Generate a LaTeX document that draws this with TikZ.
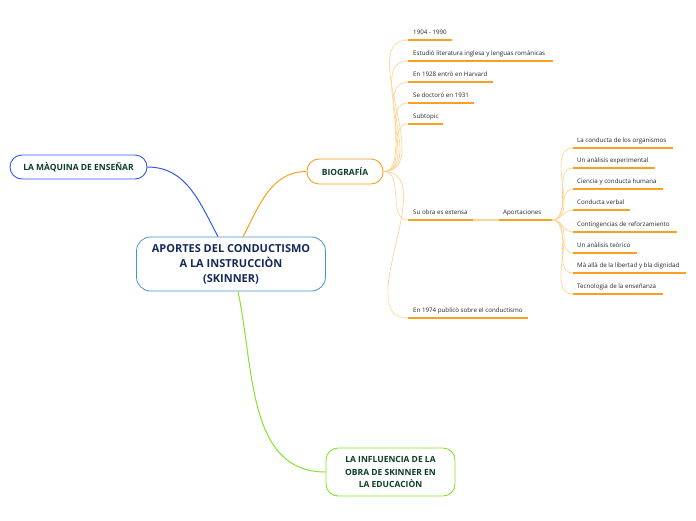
\documentclass[tikz,border=0pt]{standalone}
\usepackage{fontspec}
\setmainfont{Open Sans}
\definecolor{navy}{HTML}{14285A}
\definecolor{darkteal}{HTML}{0B3D2E}
\definecolor{mapblue}{HTML}{2F5BF5}
\definecolor{mapsky}{HTML}{4A90D9}
\definecolor{maporange}{HTML}{F9A020}
\definecolor{maplight}{HTML}{FDD596}
\definecolor{mapgreen}{HTML}{86E32A}
\tikzset{
  topicbox/.style={draw, rounded corners=12pt, fill=white, line width=0.9pt, align=center,
    font=\fontsize{8.5}{12.5}\selectfont\bfseries, text=darkteal, inner sep=0pt},
  itemtext/.style={font=\fontsize{6.2}{7}\selectfont, text=black!85, inner sep=0pt, anchor=base west},
  itemline/.style={maporange, line width=1.1pt},
  twig/.style={maplight, line width=0.7pt},
}
\begin{document}
\begin{tikzpicture}[x=1pt, y=-1pt]
	\useasboundingbox (0,0) rectangle (696,520);

	% Draw central topic
	\node[draw=mapsky, rounded corners=14pt, fill=white, line width=0.8pt, align=center,
	  font=\fontsize{11}{15}\selectfont\bfseries, text=navy,
	  minimum width=189pt, minimum height=54pt, inner sep=0pt] (cen) at (231,264)
	  {APORTES DEL CONDUCTISMO\\A LA INSTRUCCIÒN\\(SKINNER)};

	% Draw main topics
	\node[topicbox, draw=mapblue, minimum width=137pt, minimum height=24pt] (maq) at (78.5,167) {LA MÀQUINA DE ENSEÑAR};
	\node[topicbox, draw=maporange, minimum width=76pt, minimum height=25pt] (biog) at (345,171.5) {BIOGRAFÍA};
	\node[topicbox, draw=mapgreen, minimum width=129pt, minimum height=48pt] (infl) at (390.5,472)
	  {LA INFLUENCIA DE LA\\OBRA DE SKINNER EN\\LA EDUCACIÒN};

	% Draw main connectors
	\coordinate (cenb) at ([xshift=-13pt]cen.north);
	\coordinate (ceno) at ([xshift=12pt]cen.north);
	\coordinate (ceng) at ([xshift=7pt]cen.south);
	\draw[mapblue, line width=1pt] (cenb) to[out=118, in=0] (maq.east);
	\draw[maporange, line width=1pt] (ceno) to[out=62, in=180] (biog.west);
	\draw[mapgreen, line width=1pt] (ceng) to[out=-78, in=180] (infl.west);

	% Draw biography items
	\foreach \ly/\lx/\txt [count=\i] in {40/452/1904 - 1990,
	    61/553/Estudiò literatura inglesa y lenguas romànicas,
	    82/493/En 1928 entrò en Harvard,
	    103/474/Se doctorò en 1931,
	    124/443/Subtopic,
	    220/473/Su obra es extensa,
	    318/528/En 1974 publicò sobre el conductismo}{
	  \coordinate (b\i s) at (408,\ly);
	  \coordinate (b\i e) at (\lx,\ly);
	  \draw[twig] (biog.east) to[out=0, in=180] (b\i s);
	  \draw[itemline] (b\i s) -- (b\i e);
	  \node[itemtext] (b\i) at (413,\ly-5.5) {\txt};
	}

	% Draw contributions
	\coordinate (aps) at (499,220);
	\coordinate (ape) at (552,220);
	\draw[maplight, line width=1.1pt] (b6e) -- (aps);
	\draw[itemline] (aps) -- (ape);
	\node[itemtext] (apor) at (503,214.5) {Aportaciones};

	\foreach \ly/\lx/\txt [count=\i] in {148/673/La conducta de los organismos,
	    168/655/Un anàlisis experimental,
	    189/663/Ciencia y conducta humana,
	    210/630/Conducta verbal,
	    232/677/Contingencias de reforzamiento,
	    253/637/Un anàlisis teòrico,
	    273/686/Mà allà de la libertad y bla dignidad,
	    294/663/Tecnologia de la enseñanza}{
	  \coordinate (a\i s) at (573,\ly);
	  \coordinate (a\i e) at (\lx,\ly);
	  \draw[twig] (ape) to[out=0, in=180] (a\i s);
	  \draw[itemline] (a\i s) -- (a\i e);
	  \node[itemtext] (a\i) at (577,\ly-5.5) {\txt};
	}
\end{tikzpicture}
\end{document}
